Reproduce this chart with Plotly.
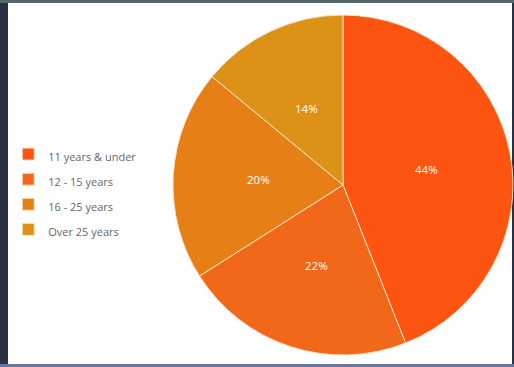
import math
import plotly.graph_objects as go

labels = ["11 years & under", "12 - 15 years", "16 - 25 years", "Over 25 years"]
values = [44, 22, 20, 14]
colors = ["#fd5412", "#f2681a", "#e67f16", "#dc9217"]

W, H = 514, 367
dom_x = [173 / W, 513 / W]
dom_y = [1 - 355 / H, 1 - 15 / H]

fig = go.Figure(go.Pie(
    labels=["<span style='font-size:11px'>" + l + "</span>" for l in labels],
    values=values,
    sort=False,
    direction="clockwise",
    rotation=0,
    marker=dict(colors=colors, line=dict(color="#fbe3c2", width=1)),
    textinfo="none",
    domain=dict(x=dom_x, y=dom_y),
    hoverinfo="label+percent",
))

# percentage labels at half radius along each slice's mid-angle
total = sum(values)
cx = (dom_x[0] + dom_x[1]) / 2
cy = (dom_y[0] + dom_y[1]) / 2
R = min((dom_x[1] - dom_x[0]) * W, (dom_y[1] - dom_y[0]) * H) / 2
cum = 0
annotations = []
for v in values:
    mid = (cum + v / 2) / total * 2 * math.pi
    cum += v
    annotations.append(dict(
        x=cx + 0.5 * R * math.sin(mid) / W,
        y=cy + 0.5 * R * math.cos(mid) / H,
        xref="paper", yref="paper", showarrow=False,
        xanchor="center", yanchor="middle",
        text=f"{round(v / total * 100)}%",
        font=dict(color="white", size=11.5, family="Open Sans"),
    ))

fig.update_layout(
    width=W, height=H,
    margin=dict(l=0, r=0, t=0, b=0),
    paper_bgcolor="#2a3142",
    showlegend=True,
    annotations=annotations,
    legend=dict(
        x=0.016, y=0.628, xanchor="left", yanchor="top",
        font=dict(family="Open Sans", size=17, color="#666666"),
        bgcolor="rgba(0,0,0,0)",
    ),
    shapes=[
        dict(type="rect", xref="paper", yref="paper", x0=0, x1=1, y0=1 - 3 / H, y1=1,
             fillcolor="#55676c", line=dict(width=0), layer="below"),
        dict(type="rect", xref="paper", yref="paper", x0=0, x1=1, y0=0, y1=3 / H,
             fillcolor="#6a76a4", line=dict(width=0), layer="below"),
        dict(type="rect", xref="paper", yref="paper", x0=8 / W, x1=512 / W, y0=1 - 364 / H, y1=1 - 3 / H,
             fillcolor="white", line=dict(width=0), layer="below"),
    ],
)

fig.write_html("out.html", config={"displayModeBar": False},
               post_script="document.body.style.margin='0';document.body.style.overflow='hidden';")
